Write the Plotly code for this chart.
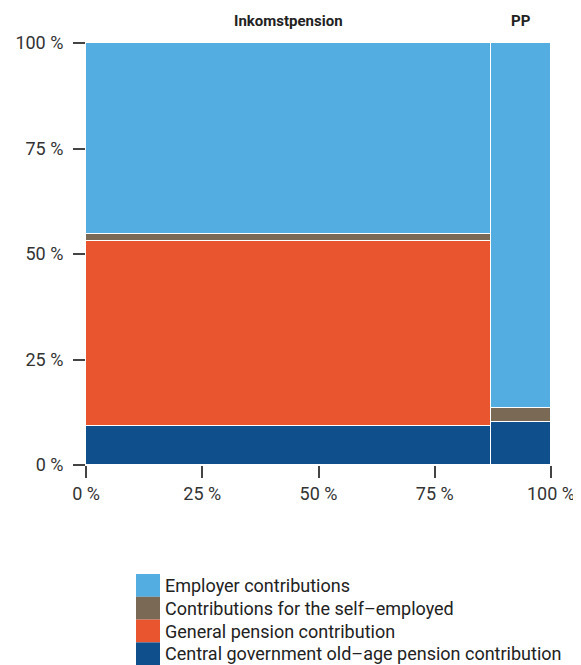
import numpy as np
import plotly.graph_objects as go

# Mosaic data: column widths (share of total) and segment shares within each column
systems = ["Inkomstpension", "PP"]
system_share = [87.1, 12.9]

series = [
    "Central government old\u2013age pension contribution",
    "General pension contribution",
    "Contributions for the self\u2013employed",
    "Employer contributions",
]
central_gov = [9.2, 10.2]
general_pension = [43.8, 0.0]
self_employed = [1.7, 3.3]
employer = [45.3, 86.5]

colors = ["#0f508c", "#e9552f", "#7a6a55", "#54ade0"]

x_tick_vals = [0, 25, 50, 75, 100]
x_tick_text = ["0 %", "25 %", "50 %", "75 %", "100 %"]
y_tick_vals = [0, 25, 50, 75, 100]
y_tick_text = ["0 %", "25 %", "50 %", "75 %", "100 %"]

FONT = "Roboto"

# page has an 8px body margin, so the figure is sized to fit inside it
W, H = 573, 657
ML, MR, MT, MB = 78, 30, 35, 200
PH = H - MT - MB
PW = W - ML - MR

left = np.concatenate([[0], np.cumsum(system_share)[:-1]])
mids = left + np.array(system_share) / 2

fig = go.Figure()
for name, vals, col in zip(series, [central_gov, general_pension, self_employed, employer], colors):
    fig.add_trace(
        go.Bar(
            x=left,
            y=vals,
            width=system_share,
            offset=0,
            name=name,
            marker=dict(color=col, line=dict(color="white", width=1.2)),
            showlegend=False,
        )
    )

# column labels on top
annotations = []
for name, m in zip(systems, mids):
    annotations.append(
        dict(x=m, y=1, xref="x", yref="paper", yanchor="bottom", yshift=11,
             text=f"<b>{name}</b>", showarrow=False,
             font=dict(family=FONT, size=15, color="#222"))
    )

# custom legend (top entry = top of the stack)
shapes = []
row_h = 22.8 / PH
top0 = -(574 - 465) / PH
for i, (name, col) in enumerate(reversed(list(zip(series, colors)))):
    y1 = top0 - i * row_h
    y0 = y1 - row_h
    shapes.append(dict(type="rect", xref="paper", yref="paper",
                       x0=(136 - 86) / PW, x1=(160 - 86) / PW, y0=y0, y1=y1,
                       fillcolor=col, line=dict(width=0)))
    annotations.append(
        dict(x=(163 - 86) / PW, y=(y0 + y1) / 2, xref="paper", yref="paper",
             xanchor="left", yanchor="middle", text=name, showarrow=False,
             font=dict(family=FONT, size=18, color="#222"))
    )

fig.update_layout(
    width=W,
    height=H,
    barmode="stack",
    bargap=0,
    paper_bgcolor="white",
    plot_bgcolor="white",
    margin=dict(l=ML, r=MR, t=MT, b=MB),
    font=dict(family=FONT, size=17, color="#333"),
    showlegend=False,
    shapes=shapes,
    annotations=annotations,
)
fig.update_xaxes(
    range=[0, 100], tickvals=x_tick_vals, ticktext=x_tick_text,
    ticks="outside", ticklen=12, tickwidth=2, tickcolor="#444",
    showgrid=False, zeroline=False, showline=False, automargin=False,
    tickfont=dict(size=18, color="#333"),
)
fig.update_yaxes(
    range=[0, 100], tickvals=y_tick_vals, ticktext=y_tick_text,
    ticks="outside", ticklen=12, tickwidth=1.5, tickcolor="#444",
    showgrid=False, zeroline=False, showline=False, automargin=False,
    ticklabelstandoff=6,
    tickfont=dict(size=18, color="#333"),
)

fig.write_html("out.html")
